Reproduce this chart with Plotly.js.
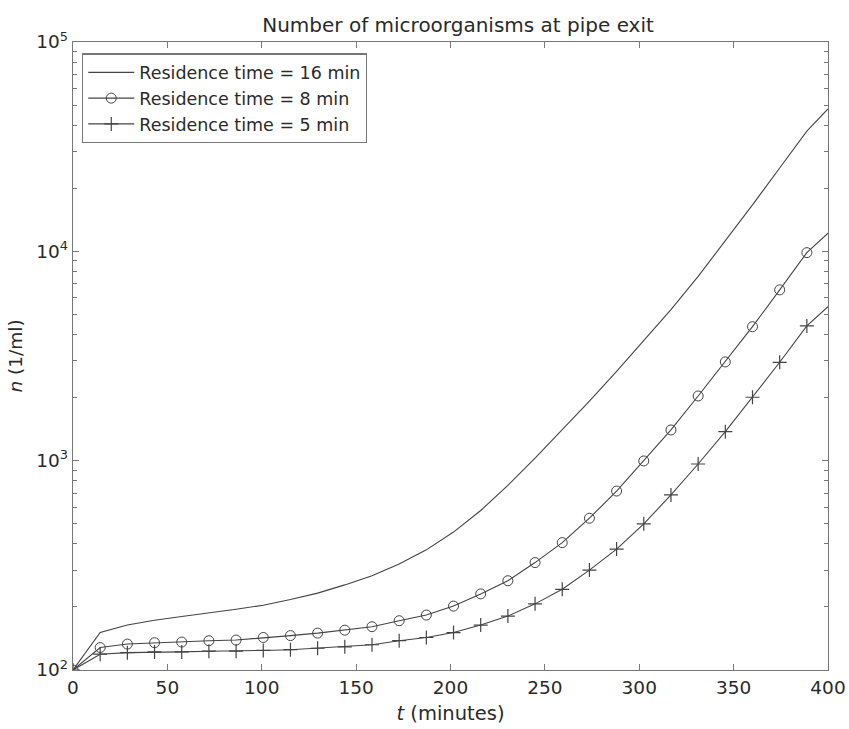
<!DOCTYPE html>
<html>
<head>
<meta charset="utf-8">
<script src="https://cdn.plot.ly/plotly-3.0.1.min.js"></script>
<style>html,body{margin:0;padding:0;background:#fff;}#chart{width:849px;height:729px;}</style>
</head>
<body>
<div id="chart"></div>
<script>
// time (minutes)
const tMinutes = [0, 14.4, 28.8, 43.2, 57.6, 72, 86.4, 100.8, 115.2, 129.6, 144, 158.4, 172.8, 187.2, 201.6, 216, 230.4, 244.8, 259.2, 273.6, 288, 302.4, 316.8, 331.2, 345.6, 360, 374.4, 388.8, 400];
// n (1/ml)
const res16 = [100, 151, 164, 173, 180, 187, 195, 204, 217, 233, 255, 282, 321, 375, 456, 578, 762, 1028, 1400, 1923, 2667, 3733, 5272, 7586, 11170, 16670, 25000, 37500, 47860];
const res8  = [100, 128, 133, 135, 136, 138, 139, 143, 146, 150, 155, 161, 172, 183, 202, 231, 267, 326, 406, 531, 716, 997, 1402, 2037, 2963, 4365, 6546, 9860, 12200];
const res5  = [100, 119, 121, 122, 122, 123, 123, 124, 125, 127, 129, 132, 138, 143, 151, 164, 181, 207, 243, 300, 378, 499, 686, 964, 1376, 2009, 2951, 4403, 5440];
const seriesNames = ["Residence time = 16 min", "Residence time = 8 min", "Residence time = 5 min"];
const xTicks = [0, 50, 100, 150, 200, 250, 300, 350, 400];
const yTickVals = [100, 1000, 10000, 100000];
const yTickText = ["10<sup>2</sup>", "10<sup>3</sup>", "10<sup>4</sup>", "10<sup>5</sup>"];
const yMinorVals = [200,300,400,500,600,700,800,900,2000,3000,4000,5000,6000,7000,8000,9000,20000,30000,40000,50000,60000,70000,80000,90000];

const lineColor = "#444444";
const axisColor = "#777777";
const textColor = "#2a2a2a";
const fontFam = "DejaVu Sans, sans-serif";

const circleMarker = {symbol: "circle-open", size: 10, color: lineColor, line: {width: 1, color: lineColor}};
const plusMarker = {symbol: "cross-thin-open", size: 10, color: lineColor, line: {width: 1.2, color: lineColor}};

const traces = [
  {x: tMinutes, y: res16, name: seriesNames[0], type: "scatter", mode: "lines",
   line: {color: lineColor, width: 1.1}},
  {x: tMinutes.slice(0, 28), y: res8.slice(0, 28), name: seriesNames[1], type: "scatter", mode: "markers",
   marker: circleMarker, showlegend: false},
  {x: tMinutes, y: res8, name: seriesNames[1], type: "scatter", mode: "lines",
   line: {color: lineColor, width: 1.1}, showlegend: false},
  {x: tMinutes.slice(0, 28), y: res5.slice(0, 28), name: seriesNames[2], type: "scatter", mode: "markers",
   marker: plusMarker, showlegend: false},
  {x: tMinutes, y: res5, name: seriesNames[2], type: "scatter", mode: "lines",
   line: {color: lineColor, width: 1.1}, showlegend: false},
  // legend entries (line + marker)
  {x: [null], y: [null], name: seriesNames[1], type: "scatter", mode: "lines+markers",
   line: {color: lineColor, width: 1.1}, marker: circleMarker},
  {x: [null], y: [null], name: seriesNames[2], type: "scatter", mode: "lines+markers",
   line: {color: lineColor, width: 1.1}, marker: plusMarker}
];

const layout = {
  width: 849, height: 729,
  margin: {l: 73, r: 21, t: 42, b: 59, pad: 0},
  paper_bgcolor: "#ffffff", plot_bgcolor: "#ffffff",
  font: {family: fontFam, color: textColor, size: 18},
  title: {text: "Number of microorganisms at pipe exit", x: 0.51, xref: "paper", xanchor: "center",
          y: 0.975, yref: "container", font: {size: 20, family: fontFam, color: textColor}},
  xaxis: {
    range: [0, 400], tickvals: xTicks, ticks: "inside", ticklen: 6, tickcolor: axisColor,
    showline: true, linecolor: axisColor, linewidth: 1.3, mirror: "ticks", showgrid: false, zeroline: false,
    tickfont: {size: 18.5, family: fontFam, color: textColor},
    title: {text: "<i>t</i> (minutes)", font: {size: 19.5, family: fontFam, color: textColor}, standoff: 9}
  },
  yaxis: {
    type: "log", range: [2, 5], tickvals: yTickVals, ticktext: yTickText, ticks: "inside", ticklen: 6,
    tickcolor: axisColor, showline: true, linecolor: axisColor, linewidth: 1.3, mirror: "ticks",
    showgrid: false, zeroline: false,
    minor: {ticks: "inside", ticklen: 4, tickcolor: axisColor, showgrid: false, tickvals: yMinorVals},
    tickfont: {size: 18.5, family: fontFam, color: textColor},
    title: {text: "<i>n</i> (1/ml)", font: {size: 18.5, family: fontFam, color: textColor}, standoff: 8}
  },
  showlegend: true,
  legend: {x: 0.012, y: 0.982, xanchor: "left", yanchor: "top", bgcolor: "#ffffff",
           bordercolor: axisColor, borderwidth: 1.2, font: {size: 17.5, family: fontFam, color: textColor},
           tracegroupgap: 0, itemwidth: 46}
};

Plotly.newPlot("chart", traces, layout, {displayModeBar: false, staticPlot: true});
</script>
</body>
</html>
